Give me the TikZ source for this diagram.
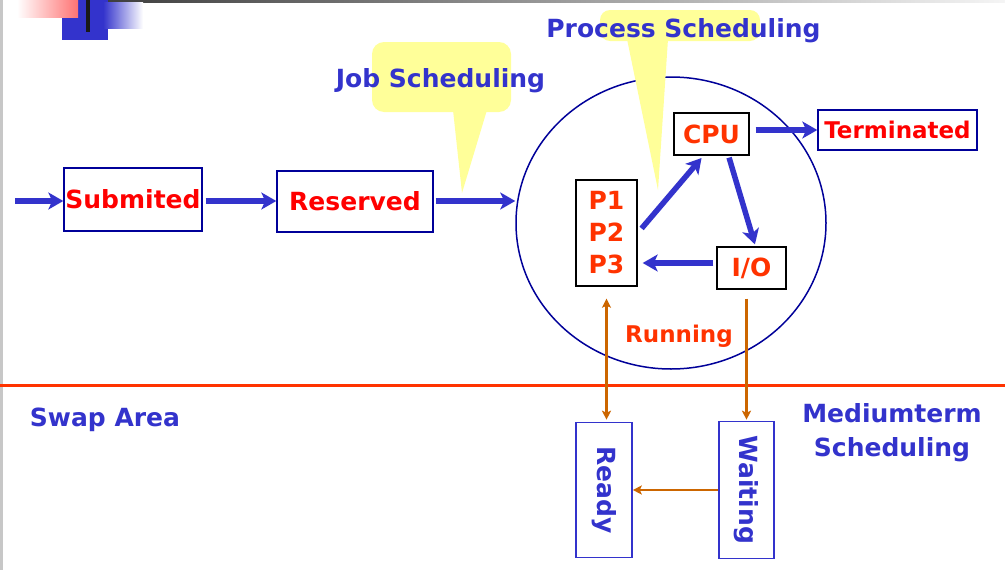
\documentclass[tikz,border=0pt]{standalone}
\usepackage{fontspec}
\setmainfont{DejaVu Sans}
\usepackage{graphicx}
\usepackage{xcolor}
\usepackage{tikz}
\usetikzlibrary{calc,positioning,arrows.meta,shapes.geometric}
\definecolor{flowblue}{RGB}{51,51,204}
\definecolor{framenavy}{RGB}{0,0,153}
\definecolor{statered}{RGB}{255,0,0}
\definecolor{procred}{RGB}{255,51,0}
\definecolor{swaporange}{RGB}{204,102,0}
\definecolor{noteyellow}{RGB}{255,255,153}

\begin{document}
\begin{tikzpicture}[x=1pt, y=-1pt,
  every node/.style={font=\fontsize{25}{32}\selectfont\bfseries},
  jobstate/.style={draw=framenavy, line width=1.4pt, text=statered, inner sep=0pt},
  cpustate/.style={draw=black, line width=1.4pt, text=procred, inner sep=0pt},
  swapstate/.style={draw=flowblue, line width=1.6pt, text=flowblue, inner sep=0pt},
  ring/.style={ellipse, draw=framenavy, line width=1.5pt, minimum width=310pt,
    minimum height=292pt, inner sep=0pt},
  heading/.style={text=flowblue, align=center},
  note/.style={fill=noteyellow},
  divider/.style={draw=procred, line width=3pt},
  flowtip/.tip={Stealth[length=15pt,width=17pt,inset=4pt]},
  swaptip/.tip={Stealth[length=9pt,width=9pt,inset=2pt]},
  flow/.style={-flowtip, line width=5.5pt, draw=flowblue},
  swaparr/.style={-swaptip, line width=2.4pt, draw=swaporange},
]
  \useasboundingbox[fill=white] (0,0) rectangle (1005,570);

  \fill[black!22] (0,0) rectangle (3,570);
  \shade[left color=black!80, right color=black!4] (51,0) rectangle (1005,2.5);
  \fill[flowblue] (62,0) rectangle (108,40);
  \shade[left color=flowblue, right color=white] (103,2.5) rectangle (143,28);
  \shade[left color=white, right color=red!55] (17,0) rectangle (78,17);
  \fill[black!90] (86,0) rectangle (90,32);

  \node[jobstate, minimum width=138pt, minimum height=63pt] (sub) at (133,199.5) {Submited};
  \node[jobstate, minimum width=156pt, minimum height=61pt] (res) at (355,201.5) {Reserved};
  \node[jobstate, minimum width=159pt, minimum height=40pt,
    font=\fontsize{23}{26}\selectfont\bfseries] (term) at (897.5,130) {Terminated};

  \node[ring] (run) at (671,223) {};

  \fill[note, rounded corners=12pt] (372,42) rectangle (511,112);
  \fill[note] (453,110) -- (487,110) -- (462,193) -- cycle;
  \node[heading] (jobnote) at (440.5,81) {Job Scheduling};
  \fill[note, rounded corners=10pt] (600,10) rectangle (760,41);
  \fill[note] (627,39) -- (668,39) -- (658,190) -- cycle;
  \node[heading] (procnote) at (683.5,31) {Process Scheduling};

  \node[cpustate, minimum width=75pt, minimum height=42pt] (cpu) at (711.5,134) {CPU};
  \node[cpustate, minimum width=61pt, minimum height=106pt, align=left] (pool) at (606.5,233) {P1\\P2\\P3};
  \node[cpustate, minimum width=69pt, minimum height=42pt] (io) at (751.5,268) {I/O};
  \node[text=procred, font=\fontsize{23}{26}\selectfont\bfseries] (runlabel) at (679,336) {Running};

  \draw[divider] (0,385) -- (1005,385);

  \node[heading] (swaplabel) at (105,420) {Swap Area};
  \node[heading, font=\fontsize{25}{34}\selectfont\bfseries] (medlabel) at (892,433) {Mediumterm\\Scheduling};

  \node[swapstate, minimum width=56pt, minimum height=135pt] (ready) at (604,490) {\rotatebox{-90}{Ready}};
  \node[swapstate, minimum width=55pt, minimum height=137pt] (waiting) at (746.5,490) {\rotatebox{-90}{Waiting}};

  \coordinate (entry) at (15,201);
  \draw[flow] (entry) -- (entry -| sub.west);
  \draw[flow, shorten <=3pt] (entry -| sub.east) -- (entry -| res.west);
  \draw[flow, shorten <=2pt] (entry -| res.east) -- (entry -| run.west);
  \draw[flow, shorten <=6pt] (cpu.east |- term.west) -- (term.west);
  \draw[flow, shorten <=6pt, shorten >=3pt] (pool.east) -- ([xshift=-8pt]cpu.south);
  \draw[flow, shorten <=2pt, shorten >=2pt] ([xshift=17pt]cpu.south) -- ([xshift=4pt]io.north);
  \coordinate (ioout) at ([yshift=5pt]io.west);
  \draw[flow, shorten <=3pt, shorten >=5pt] (ioout) -- (ioout -| pool.east);

  \draw[swaparr, swaptip-swaptip, shorten <=12pt, shorten >=2pt] (pool.south) -- (pool.south |- ready.north);
  \draw[swaparr, shorten <=9pt, shorten >=1pt] (waiting.north |- io.south) -- (waiting.north);
  \draw[swaparr] (waiting.west) -- (ready.east);
\end{tikzpicture}
\end{document}
